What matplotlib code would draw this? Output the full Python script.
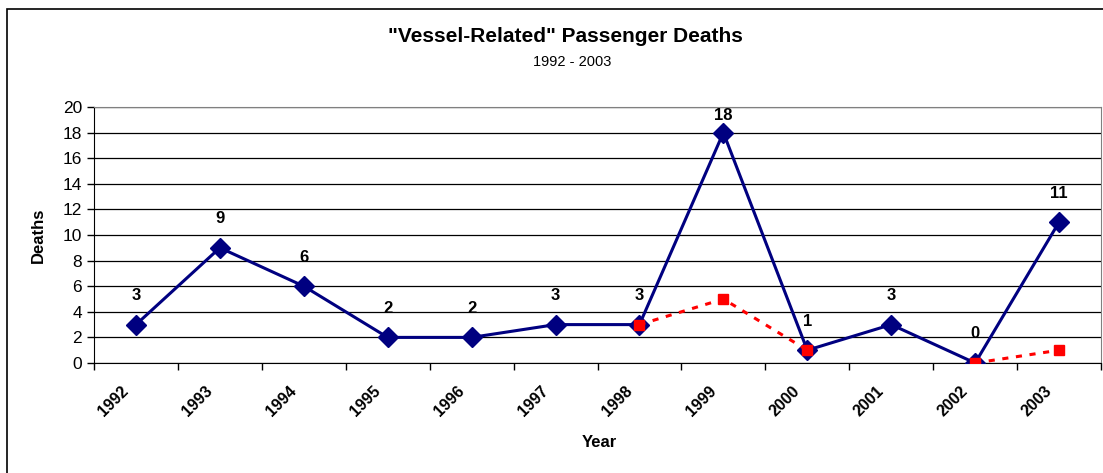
import matplotlib.pyplot as plt
import matplotlib.patches as patches
import matplotlib.transforms as mtransforms
import numpy as np

plt.rcParams['font.family'] = ['Liberation Sans', 'DejaVu Sans']

years = ['1992', '1993', '1994', '1995', '1996', '1997',
         '1998', '1999', '2000', '2001', '2002', '2003']
deaths = [3, 9, 6, 2, 2, 3, 3, 18, 1, 3, 0, 11]
# second (red dashed) series, gap at 2001
adjusted = [np.nan] * 6 + [3, 5, 1, np.nan, 0, 1]

W, H = 1103, 473
fig = plt.figure(figsize=(W / 100, H / 100), dpi=100)

# outer chart frame
fig.patches.append(patches.Rectangle((7 / W, -0.1), 1.2, 1 - 9 / H + 0.1,
                                     transform=fig.transFigure, fill=False,
                                     edgecolor='black', linewidth=1.2))

ax = fig.add_axes([94 / W, (H - 363) / H, (1101 - 94) / W, 256 / H])
x = np.arange(len(years))

ax.plot(x, deaths, color='#000080', linewidth=2.2, marker='D',
        markersize=10, zorder=3)
xa = np.array(adjusted, dtype=float)
# draw connected segments, skipping the gap
for s, e in [(6, 9), (10, 12)]:
    ax.plot(x[s:e], xa[s:e], color='#FF0000', linewidth=2.2,
            linestyle=(0, (2, 2.5)), marker='s', markersize=7, zorder=4)

for xi, v in zip(x, deaths):
    # labels near the top get pushed down to stay inside the plot area
    off = 12 if v > 16 else 21
    ax.annotate(str(v), (xi, v), xytext=(0, off), textcoords='offset points',
                ha='center', va='center', fontsize=12, fontweight='bold')

ax.set_xlim(-0.5, len(years) - 0.5)
ax.set_ylim(0, 20)
ax.set_yticks(range(0, 21, 2))
ax.yaxis.grid(True, color='black', linewidth=0.9)
ax.set_axisbelow(True)

# category labels drawn as rotated text, anchored a bit left of centre
ax.set_xticks(np.arange(-0.5, len(years), 1))
ax.set_xticklabels([])
ax.tick_params(axis='x', length=5, width=1, direction='out')
trans = ax.get_xaxis_transform() + mtransforms.ScaledTranslation(
    -15 / 100, -20 / 100, fig.dpi_scale_trans)
for xi, lab in zip(x, years):
    ax.text(xi, 0, lab, transform=trans, rotation=45, ha='right', va='top',
            rotation_mode='anchor', fontsize=11.5, fontweight='bold')
ax.tick_params(axis='y', length=5, width=1, direction='out', labelsize=12.5)

for s in ['top', 'right']:
    ax.spines[s].set_color('#808080')
ax.spines['left'].set_color('black')
ax.spines['bottom'].set_color('black')

ax.set_ylabel('Deaths', fontsize=12, fontweight='bold', labelpad=12)
ax.set_xlabel('Year', fontsize=12, fontweight='bold', labelpad=0)
ax.xaxis.set_label_coords(0.502, -(442 - 363) / 256)
ax.xaxis.label.set_va('center')

fig.text(565 / W, 1 - 37 / H, '"Vessel-Related" Passenger Deaths',
         ha='center', va='center', fontsize=15, fontweight='bold')
fig.text(572 / W, 1 - 62 / H, '1992 - 2003', ha='center', va='center',
         fontsize=10.5)

fig.savefig('out.png', dpi=100)
